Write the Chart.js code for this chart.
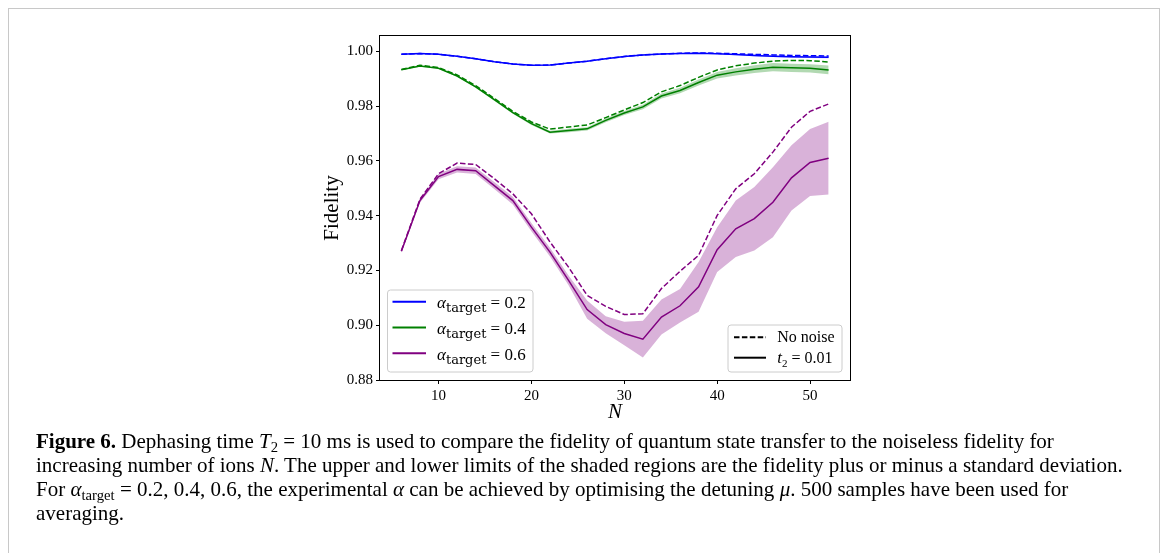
<!DOCTYPE html>
<html>
<head>
<meta charset="utf-8">
<script src="https://cdn.jsdelivr.net/npm/chart.js@4.4.1/dist/chart.umd.min.js"></script>
<style>
html, body { margin: 0; padding: 0; background: #fff; }
body { width: 1168px; height: 553px; overflow: hidden; position: relative; font-family: "Liberation Serif", serif; color: #000; }
#frame { position: absolute; left: 8px; top: 8px; width: 1150px; height: 560px; border: 1px solid #c8c8c8; border-bottom: none; }
#plot { position: absolute; left: 300px; top: 0; }
#caption { position: absolute; left: 36px; top: 429px; font-size: 21px; line-height: 24px; white-space: nowrap; }
#caption sub { font-size: 0.7em; vertical-align: -0.25em; line-height: 0; }
</style>
</head>
<body>
<div id="frame"></div>
<canvas id="plot" width="560" height="430"></canvas>
<div id="caption"><b>Figure 6.</b> Dephasing time <i>T</i><sub>2</sub> = 10 ms is used to compare the fidelity of quantum state transfer to the noiseless fidelity for<br>increasing number of ions <i>N</i>. The upper and lower limits of the shaded regions are the fidelity plus or minus a standard deviation.<br>For <i>α</i><sub>target</sub> = 0.2, 0.4, 0.6, the experimental <i>α</i> can be achieved by optimising the detuning <i>μ</i>. 500 samples have been used for<br>averaging.</div>
<script>
const SERIF = '"Liberation Serif", "DejaVu Serif", serif';
const WIDE_SERIF = '"DejaVu Serif", serif';

// number of ions
const ionsN = [6, 8, 10, 12, 14, 16, 18, 20, 22, 24, 26, 28, 30, 32, 34, 36, 38, 40, 42, 44, 46, 48, 50, 52];
const xTicks = [10, 20, 30, 40, 50];
const yTicks = [0.88, 0.90, 0.92, 0.94, 0.96, 0.98, 1.00];

// alpha_target = 0.2
const blueNoiseless = [0.9989, 0.9992, 0.9989, 0.9982, 0.9973, 0.9962, 0.9954, 0.9949, 0.9950, 0.9957, 0.9964, 0.9973, 0.9981, 0.9987, 0.9990, 0.9993, 0.9994, 0.9993, 0.9991, 0.9989, 0.9987, 0.9985, 0.9984, 0.9983];
const blueT2 = [0.9989, 0.9992, 0.9989, 0.9982, 0.9973, 0.9962, 0.9954, 0.9949, 0.9950, 0.9957, 0.9964, 0.9973, 0.9981, 0.9987, 0.9990, 0.9992, 0.9993, 0.9991, 0.9988, 0.9985, 0.9982, 0.9980, 0.9979, 0.9978];
const blueStd = [0.0001, 0.0001, 0.0001, 0.0001, 0.0001, 0.0001, 0.0001, 0.0001, 0.0001, 0.0001, 0.0001, 0.0001, 0.0002, 0.0002, 0.0002, 0.0002, 0.0002, 0.0002, 0.0002, 0.0003, 0.0003, 0.0003, 0.0003, 0.0003];

// alpha_target = 0.4
const greenNoiseless = [0.9934, 0.9949, 0.9941, 0.9914, 0.9875, 0.9828, 0.9781, 0.9742, 0.9716, 0.9724, 0.9731, 0.9758, 0.9786, 0.9813, 0.9852, 0.9875, 0.9905, 0.9932, 0.9947, 0.9957, 0.9964, 0.9967, 0.9966, 0.9961];
const greenT2 = [0.9933, 0.9946, 0.9938, 0.9910, 0.9870, 0.9824, 0.9776, 0.9736, 0.9705, 0.9711, 0.9717, 0.9748, 0.9775, 0.9797, 0.9837, 0.9857, 0.9886, 0.9913, 0.9925, 0.9935, 0.9942, 0.9940, 0.9938, 0.9932];
const greenStd = [0.0002, 0.0002, 0.0002, 0.0003, 0.0003, 0.0004, 0.0004, 0.0005, 0.0005, 0.0006, 0.0006, 0.0007, 0.0007, 0.0008, 0.0009, 0.0010, 0.0011, 0.0012, 0.0013, 0.0014, 0.0015, 0.0015, 0.0015, 0.0016];

// alpha_target = 0.6
const purpleNoiseless = [0.9272, 0.9460, 0.9553, 0.9592, 0.9587, 0.9535, 0.9480, 0.9407, 0.9304, 0.9212, 0.9109, 0.9069, 0.9039, 0.9042, 0.9134, 0.9197, 0.9255, 0.9401, 0.9498, 0.9553, 0.9632, 0.9723, 0.9781, 0.9808];
const purpleT2 = [0.9270, 0.9455, 0.9543, 0.9569, 0.9564, 0.9510, 0.9455, 0.9358, 0.9267, 0.9164, 0.9057, 0.9002, 0.8970, 0.8949, 0.9030, 0.9071, 0.9140, 0.9276, 0.9352, 0.9389, 0.9449, 0.9538, 0.9594, 0.9610];
const purpleStd = [0.0005, 0.0008, 0.0010, 0.0011, 0.0012, 0.0013, 0.0014, 0.0015, 0.0016, 0.0018, 0.0033, 0.0031, 0.0043, 0.0067, 0.0064, 0.0061, 0.0091, 0.0082, 0.0103, 0.0116, 0.0128, 0.0119, 0.0122, 0.0133];

const DASH = [5.5, 2.4];

function pts(vals) {
  return ionsN.map((n, i) => ({ x: n, y: vals[i] }));
}

function series(noiseless, t2, sd, color, shade) {
  return [
    { data: pts(t2.map((v, i) => v - sd[i])), borderColor: 'rgba(0,0,0,0)', borderWidth: 1, pointRadius: 0, fill: false, order: 3 },
    { data: pts(t2.map((v, i) => v + sd[i])), borderColor: 'rgba(0,0,0,0)', borderWidth: 1, pointRadius: 0, fill: '-1', backgroundColor: shade, order: 3 },
    { data: pts(noiseless), borderColor: color, borderWidth: 1.5, borderDash: DASH, pointRadius: 0, fill: false, order: 1 },
    { data: pts(t2), borderColor: color, borderWidth: 1.5, pointRadius: 0, fill: false, order: 0 }
  ];
}

function roundBox(ctx, x, y, w, h, r) {
  ctx.beginPath();
  ctx.moveTo(x + r, y);
  ctx.lineTo(x + w - r, y);
  ctx.arcTo(x + w, y, x + w, y + r, r);
  ctx.lineTo(x + w, y + h - r);
  ctx.arcTo(x + w, y + h, x + w - r, y + h, r);
  ctx.lineTo(x + r, y + h);
  ctx.arcTo(x, y + h, x, y + h - r, r);
  ctx.lineTo(x, y + r);
  ctx.arcTo(x, y, x + r, y, r);
  ctx.closePath();
  ctx.fillStyle = 'rgba(255,255,255,0.8)';
  ctx.fill();
  ctx.strokeStyle = '#cccccc';
  ctx.lineWidth = 1;
  ctx.stroke();
}

// draws pieces of text one after another: [text, font, dy]
function drawParts(ctx, x, y, parts) {
  ctx.fillStyle = '#000';
  ctx.textBaseline = 'alphabetic';
  ctx.textAlign = 'left';
  parts.forEach(p => {
    ctx.font = p[1];
    ctx.fillText(p[0], x, y + (p[2] || 0));
    x += ctx.measureText(p[0]).width;
  });
}

function sample(ctx, x0, x1, y, color, dash) {
  ctx.beginPath();
  ctx.setLineDash(dash || []);
  ctx.strokeStyle = color;
  ctx.lineWidth = 2;
  ctx.moveTo(x0, y);
  ctx.lineTo(x1, y);
  ctx.stroke();
  ctx.setLineDash([]);
}

const frameAndLegends = {
  id: 'frameAndLegends',
  afterDatasetsDraw(chart) {
    const { ctx, chartArea: a } = chart;
    ctx.save();
    ctx.strokeStyle = '#000';
    ctx.lineWidth = 1;
    ctx.strokeRect(Math.round(a.left) - 0.5, Math.round(a.top) - 0.5, Math.round(a.right - a.left) + 1, Math.round(a.bottom - a.top) + 1);
    ctx.restore();
  },
  afterDraw(chart) {
    const { ctx, chartArea: a } = chart;
    const big = '16px ' + SERIF, itBig = 'italic 17px ' + SERIF, sub = '13px ' + WIDE_SERIF, small = '11px ' + SERIF;
    ctx.save();

    // alpha legend, lower left
    let bx = a.left + 7.5, by = a.bottom - 90, bw = 145.5, bh = 82;
    roundBox(ctx, bx, by, bw, bh, 3);
    const alphaLabels = ['0.2', '0.4', '0.6'];
    const alphaColors = ['#0000ff', '#008000', '#800080'];
    alphaLabels.forEach((lab, i) => {
      const ry = by + 11.7 + i * 25.8;
      sample(ctx, bx + 5, bx + 38.5, ry, alphaColors[i]);
      drawParts(ctx, bx + 49.5, ry + 6.3, [['α', itBig], ['target', sub, 4], [' = ' + lab, '17px ' + SERIF]]);
    });

    // noise legend, lower right
    bx = a.right - 122; by = a.bottom - 55; bw = 114; bh = 47;
    roundBox(ctx, bx, by, bw, bh, 3);
    let ry = by + 12.3;
    sample(ctx, bx + 6, bx + 38, ry, '#000', DASH);
    drawParts(ctx, bx + 49.3, ry + 5, [['No noise', big]]);
    ry = by + 32.7;
    sample(ctx, bx + 6, bx + 38, ry, '#000');
    drawParts(ctx, bx + 49.3, ry + 5.6, [['t', itBig], ['2', small, 4], [' = 0.01', big]]);

    ctx.restore();
  }
};

new Chart(document.getElementById('plot'), {
  type: 'line',
  data: {
    datasets: [
      ...series(blueNoiseless, blueT2, blueStd, '#0000ff', 'rgba(0,0,255,0.3)'),
      ...series(greenNoiseless, greenT2, greenStd, '#008000', 'rgba(0,128,0,0.3)'),
      ...series(purpleNoiseless, purpleT2, purpleStd, '#800080', 'rgba(128,0,128,0.3)')
    ]
  },
  options: {
    responsive: false,
    animation: false,
    devicePixelRatio: 1,
    layout: { padding: { left: 0, top: 36, right: 10, bottom: 0 } },
    elements: { line: { tension: 0 } },
    plugins: { legend: { display: false }, tooltip: { enabled: false } },
    scales: {
      x: {
        type: 'linear', min: 3.7, max: 54.3,
        afterBuildTicks: s => { s.ticks = xTicks.map(v => ({ value: v })); },
        afterFit: s => { s.height = 50; },
        ticks: { color: '#000', font: { family: SERIF, size: 15 }, padding: 3, maxRotation: 0, autoSkip: false, callback: v => String(v) },
        grid: { drawOnChartArea: false, tickLength: 4, color: '#000', tickColor: '#000' },
        border: { display: false },
        title: { display: true, text: 'N', color: '#000', font: { family: SERIF, size: 21, style: 'italic' }, padding: { top: 0, bottom: 5 } }
      },
      y: {
        type: 'linear', min: 0.88, max: 1.0056,
        afterBuildTicks: s => { s.ticks = yTicks.map(v => ({ value: v })); },
        afterFit: s => { s.width = 80; },
        ticks: { color: '#000', font: { family: SERIF, size: 15 }, padding: 3, autoSkip: false, callback: v => v.toFixed(2) },
        grid: { drawOnChartArea: false, tickLength: 4, color: '#000', tickColor: '#000' },
        border: { display: false },
        title: { display: true, text: 'Fidelity', color: '#000', font: { family: SERIF, size: 21 }, padding: { top: 20, bottom: 0 } }
      }
    }
  },
  plugins: [frameAndLegends]
});
</script>
</body>
</html>
